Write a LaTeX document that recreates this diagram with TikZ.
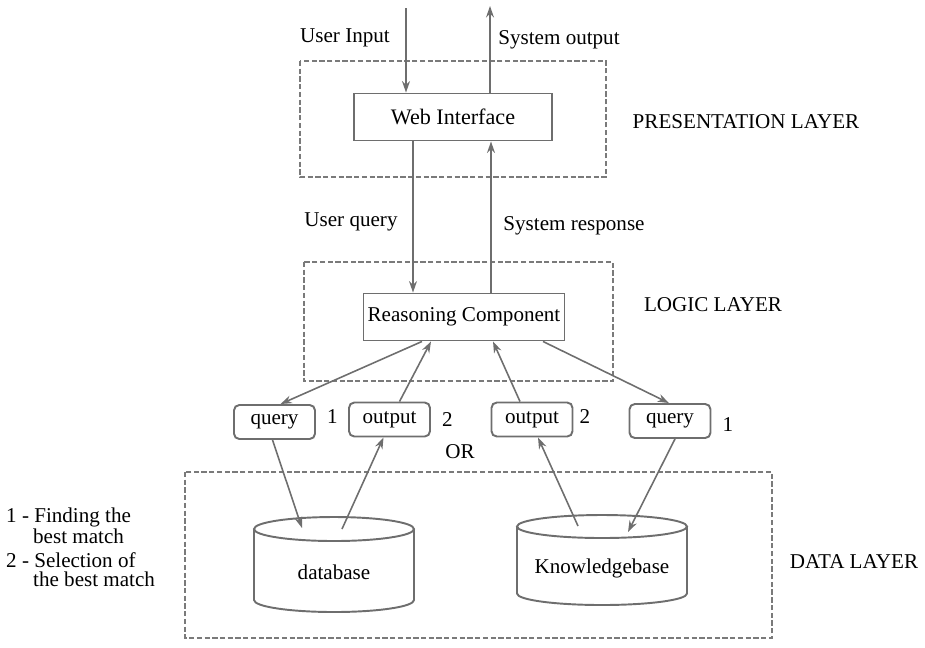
\documentclass[tikz,border=0pt]{standalone}
\usepackage{fontspec}
\setmainfont{Liberation Serif}
\usetikzlibrary{positioning}
\usetikzlibrary{arrows.meta}
\usetikzlibrary{calc}
\definecolor{linegray}{HTML}{6E6E6E}
\definecolor{dashgray}{HTML}{7A7A7A}

\begin{document}
\begin{tikzpicture}[x=0.02cm,y=-0.02cm,font=\fontsize{12}{14}\selectfont,
  box/.style={draw=linegray,line width=1.1pt,minimum height=0.94cm,inner sep=0pt},
  tag/.style={draw=linegray,line width=1.1pt,rounded corners=3pt,minimum width=1.62cm,minimum height=0.68cm,inner sep=0pt},
  store/.style={draw=linegray,line width=1.1pt},
  layer/.style={draw=dashgray,line width=1.1pt,dash pattern=on 3pt off 1.4pt},
  link/.style={draw=linegray,line width=0.9pt,-{Stealth[length=6.5pt,width=4.5pt]}}]
 \useasboundingbox (0,0) rectangle (925,647);
 % layers
 \draw[layer] (300,61) rectangle (606,177);
 \draw[layer] (304,262) rectangle (613,381);
 \draw[layer] (185,472) rectangle (772,638);
 \node (pres) at (746,122) {PRESENTATION LAYER};
 \node (logic) at (713,305) {LOGIC LAYER};
 \node (data) at (854,562) {DATA LAYER};
 % boxes
 \node[box,minimum width=3.96cm,font=\fontsize{12.6}{14}\selectfont] (web) at (453,117) {Web Interface};
 \node[box,minimum width=4.02cm] (rc) at (464,317) {Reasoning Component};
 \node[tag] (q1) at (274.5,422) {query};
 \node[tag] (o1) at (389.5,419.5) {output};
 \node[tag] (o2) at (532,419.5) {output};
 \node[tag] (q2) at (670,421) {query};
 \node[right=0.1cm of q1,yshift=0.1cm] (n1) {1};
 \node[right=0.1cm of o1] (n2) {2};
 \node[right=0cm of o2,yshift=0.05cm] (n3) {2};
 \node[right=0.1cm of q2,yshift=-0.08cm] (n4) {1};
 \node (or) at (460,452) {OR};
 % stores
 \draw[store] (254,529) -- (254,600) arc[start angle=180,end angle=0,x radius=80,y radius=12] -- (414,529);
 \draw[store] (334,529) ellipse [x radius=80,y radius=12];
 \draw[store] (517,526.5) -- (517,593.5) arc[start angle=180,end angle=0,x radius=85,y radius=11.5] -- (687,526.5);
 \draw[store] (602,526.5) ellipse [x radius=85,y radius=11.5];
 \node (db) at (334,572) {database};
 \node (kb) at (602,568) {Knowledgebase};
 % top arrows
 \coordinate (in) at (406,8);
 \coordinate (out) at (490,6);
 \coordinate (uq) at (413,0);
 \coordinate (sr) at (491,0);
 \draw[link] (in) -- (in |- web.north);
 \draw[link] (out |- web.north) -- (out);
 \draw[link] (uq |- web.south) -- (uq |- rc.north);
 \draw[link] (sr |- rc.north) -- (sr |- web.south);
 \node (uin) at (345,38) {User Input};
 \node (sout) at (559,40) {System output};
 \node (uqry) at (351,222) {User query};
 \node (sresp) at (574,226) {System response};
 % logic to tags
 \draw[link] ($(rc.south)+(-42,0)$) -- ($(q1.north)+(6,0)$);
 \draw[link] ($(o1.north)+(10,0)$) -- ($(rc.south)+(-33,0)$);
 \draw[link] ($(o2.north)+(-12,0)$) -- ($(rc.south)+(29,0)$);
 \draw[link] ($(rc.south)+(79,0)$) -- ($(q2.north)+(-1,0)$);
 % tags to data
 \coordinate (dbin) at (302,528);
 \coordinate (dbout) at (342,529);
 \coordinate (kbout) at (578,526);
 \coordinate (kbin) at (628,532);
 \draw[link] ($(q1.south)+(-2,0)$) -- (dbin);
 \draw[link] (dbout) -- ($(o1.south)+(-6,0)$);
 \draw[link] (kbout) -- ($(o2.south)+(6,0)$);
 \draw[link] ($(q2.south)+(5,0)$) -- (kbin);
 % legend
 \node[anchor=west] (l1) at (0,517) {1 - Finding the};
 \node[anchor=west] (l1b) at (27,536) {best match};
 \node[anchor=west] (l2) at (0,560) {2 - Selection of};
 \node[anchor=west] (l2b) at (27,579) {the best match};
\end{tikzpicture}
\end{document}
